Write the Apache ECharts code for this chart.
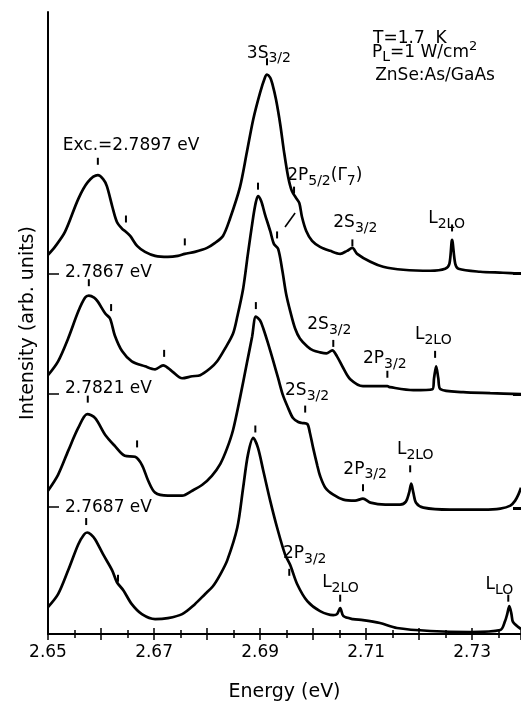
<!DOCTYPE html>
<html><head><meta charset="utf-8">
<script src="https://cdn.jsdelivr.net/npm/echarts@6/dist/echarts.min.js"></script>
<style>html,body{margin:0;padding:0;background:#fff}#c{width:521px;height:707px}</style>
</head><body><div id="c"></div>
<script>
// Spectrum 1: Exc. = 2.7897 eV (top)
const energyS1 = [2.6500,2.6513,2.6532,2.6557,2.6575,2.6594,2.6604,2.6611,2.6621,2.6630,2.6640,2.6645,2.6655,2.6668,2.6683,2.6702,2.6726,2.6745,2.6758,2.6777,2.6800,2.6815,2.6830,2.6843,2.6862,2.6875,2.6887,2.6900,2.6909,2.6913,2.6919,2.6923,2.6930,2.6938,2.6945,2.6953,2.6960,2.6968,2.6974,2.6979,2.6987,2.6998,2.7013,2.7032,2.7051,2.7064,2.7074,2.7083,2.7108,2.7132,2.7170,2.7221,2.7249,2.7257,2.7262,2.7268,2.7274,2.7315,2.7358,2.7392];
const intensityS1 = [19,27,42,75,92,99,95,88,68,52,45,43,38,28,22,18,17,18,20,22,26,31,38,55,87,122,155,182,197,200,197,191,175,150,123,97,83,76,71,57,43,33,27,23,20,23,26,20,12,7,4,3,5,10,34,10,5,2,1,0];
// Spectrum 2: 2.7867 eV
const energyS2 = [2.6500,2.6519,2.6538,2.6557,2.6570,2.6577,2.6587,2.6594,2.6608,2.6617,2.6626,2.6640,2.6658,2.6683,2.6702,2.6717,2.6734,2.6753,2.6772,2.6787,2.6806,2.6819,2.6834,2.6849,2.6857,2.6868,2.6877,2.6887,2.6892,2.6896,2.6902,2.6909,2.6919,2.6926,2.6934,2.6942,2.6949,2.6957,2.6966,2.6975,2.6989,2.7000,2.7013,2.7025,2.7036,2.7045,2.7057,2.7070,2.7094,2.7140,2.7145,2.7189,2.7225,2.7228,2.7232,2.7236,2.7240,2.7283,2.7334,2.7392];
const intensityS2 = [19,33,56,83,97,99,97,93,81,76,59,43,33,28,25,29,23,16,18,19,26,33,46,61,78,106,141,178,193,199,194,181,164,151,146,124,101,83,66,56,48,44,42,41,44,38,26,15,8,8,7,4,5,16,28,16,5,2,1,0];
// Spectrum 3: 2.7821 eV
const energyS3 = [2.6500,2.6519,2.6538,2.6557,2.6574,2.6589,2.6608,2.6626,2.6645,2.6664,2.6677,2.6689,2.6702,2.6726,2.6753,2.6772,2.6791,2.6809,2.6825,2.6838,2.6849,2.6862,2.6875,2.6885,2.6892,2.6900,2.6906,2.6915,2.6925,2.6934,2.6943,2.6953,2.6962,2.6972,2.6979,2.6989,2.6994,2.7000,2.7008,2.7013,2.7023,2.7038,2.7057,2.7079,2.7094,2.7108,2.7136,2.7164,2.7175,2.7181,2.7185,2.7189,2.7194,2.7208,2.7258,2.7321,2.7353,2.7372,2.7381,2.7387,2.7392];
const intensityS3 = [16,32,56,79,93,89,72,61,51,50,42,26,14,11,11,16,22,31,43,59,77,109,144,171,191,187,179,164,146,129,112,99,89,85,84,83,74,59,41,31,19,12,7,6,8,4,2,2,5,14,23,14,4,-1,-3,-3,-2,1,6,12,19];
// Spectrum 4: 2.7687 eV (bottom)
const energyS4 = [2.6500,2.6519,2.6538,2.6557,2.6568,2.6574,2.6581,2.6589,2.6604,2.6621,2.6630,2.6642,2.6658,2.6677,2.6702,2.6726,2.6753,2.6777,2.6796,2.6811,2.6825,2.6838,2.6857,2.6868,2.6877,2.6887,2.6896,2.6906,2.6919,2.6932,2.6947,2.6957,2.6970,2.6989,2.7013,2.7038,2.7045,2.7051,2.7057,2.7075,2.7094,2.7126,2.7158,2.7221,2.7296,2.7353,2.7362,2.7366,2.7370,2.7374,2.7377,2.7392];
const intensityS4 = [27,40,64,90,100,102,100,95,80,64,52,44,30,20,15,16,20,30,40,48,60,74,107,147,180,197,187,164,134,107,80,69,50,33,23,19,20,26,18,15,14,11,6,3,2,4,13,20,28,20,12,5];

const offsets = [362, 241, 128, 0];            // vertical stacking of spectra
const rightBaselines = [362, 241, 126];
const xTickLabels = ['2.65','2.67','2.69','2.71','2.73'];

// Peak markers [energy, value]
const peakTicks = [
  [2.6594,475],[2.6647,417],[2.6758,394],[2.6913,575],[2.6964,446],[2.7074,393],[2.7262,408],
  [2.6577,353],[2.6619,328],[2.6719,282],[2.6896,450],[2.6932,401],[2.7038,292],[2.7140,261],[2.7230,281],
  [2.6575,236],[2.6668,191],[2.6892,330],[2.6985,226],[2.7094,147],[2.7183,166],
  [2.6572,113],[2.6632,56],[2.6891,206],[2.6955,62],[2.7051,36],[2.7368,36]
];
const slashLine = [[2.6947,409],[2.6966,423]];

// Annotations [energy, value, rich text]
const annotations = [
  [2.6528,494,'{a|Exc.=2.7897 eV}'],
  [2.6875,587,'{a|3S}{b|3/2}'],
  [2.7113,602,'{a|T=1.7  K}'],
  [2.7111,588,'{a|P}{b|L}{a|=1 W/cm}{c|2}'],
  [2.7117,565,'{a|ZnSe:As/GaAs}'],
  [2.6951,464,'{a|2P}{b|5/2}{a|(Γ}{b|7}{a|)}'],
  [2.7038,417,'{a|2S}{b|3/2}'],
  [2.7217,421,'{a|L}{b|2LO}'],
  [2.6532,367,'{a|2.7867 eV}'],
  [2.6989,314,'{a|2S}{b|3/2}'],
  [2.7094,280,'{a|2P}{b|3/2}'],
  [2.7192,304,'{a|L}{b|2LO}'],
  [2.6532,250,'{a|2.7821 eV}'],
  [2.6947,248,'{a|2S}{b|3/2}'],
  [2.7057,169,'{a|2P}{b|3/2}'],
  [2.7158,189,'{a|L}{b|2LO}'],
  [2.6532,131,'{a|2.7687 eV}'],
  [2.6943,84,'{a|2P}{b|3/2}'],
  [2.7017,55,'{a|L}{b|2LO}'],
  [2.7325,53,'{a|L}{b|LO}']
];

const F = 'DejaVu Sans';
const rich = {
  a: {fontFamily:F, fontSize:17, lineHeight:18, verticalAlign:'top', padding:[4,0,0,0], color:'#000'},
  b: {fontFamily:F, fontSize:14, lineHeight:14, verticalAlign:'top', padding:[11,0,0,0], color:'#000'},
  c: {fontFamily:F, fontSize:13, lineHeight:14, verticalAlign:'top', padding:[0,0,0,0], color:'#000'}
};

const spectra = [[energyS1,intensityS1],[energyS2,intensityS2],[energyS3,intensityS3],[energyS4,intensityS4]];

const chart = echarts.init(document.getElementById('c'), null, {renderer:'canvas'});
const xBase = {
  type:'value', min:2.65, max:2.7392, interval:0.01,
  axisLine:{show:true, lineStyle:{color:'#000', width:2}},
  axisTick:{show:true, inside:true, length:6, lineStyle:{color:'#000', width:1.5}},
  minorTick:{show:true, splitNumber:2, length:4, lineStyle:{color:'#000', width:1.5}},
  splitLine:{show:false}, minorSplitLine:{show:false}
};
const option = {
  animation:false,
  backgroundColor:'#fff',
  grid:{left:48, right:0, top:12, bottom:70, containLabel:false},
  xAxis:[
    Object.assign({}, xBase, {
      position:'bottom',
      axisLabel:{show:true, margin:10, color:'#000', fontFamily:F, fontSize:17,
        formatter: v => { const s = v.toFixed(2); return (xTickLabels.includes(s) && Math.abs(v - parseFloat(s)) < 1e-6) ? s : ''; },
        showMaxLabel:false},
      name:'Energy (eV)', nameLocation:'middle', nameGap:49,
      nameTextStyle:{color:'#000', fontFamily:F, fontSize:19}
    }),
    Object.assign({}, xBase, {position:'top', axisLabel:{show:false}})
  ],
  yAxis:[
    {type:'value', min:0, max:625, position:'left',
     axisLine:{show:true, lineStyle:{color:'#000', width:2}},
     axisTick:{show:true, inside:true, length:11, customValues:offsets.slice(0,3), lineStyle:{color:'#000', width:1.5}},
     axisLabel:{show:false}, splitLine:{show:false},
     name:'Intensity (arb. units)', nameLocation:'middle', nameGap:10, nameRotate:90,
     nameTextStyle:{color:'#000', fontFamily:F, fontSize:19}},
    {type:'value', min:0, max:625, position:'right',
     axisLine:{show:false},
     axisTick:{show:true, inside:true, length:8, customValues:rightBaselines, lineStyle:{color:'#000', width:3}},
     axisLabel:{show:false}, splitLine:{show:false}}
  ],
  series: [
    ...spectra.map((s, k) => ({
      type:'line', xAxisIndex:0, yAxisIndex:0, smooth:0.3, showSymbol:false, symbol:'none',
      lineStyle:{color:'#000', width:2.7}, clip:true,
      data: s[0].map((e, i) => [e, offsets[k] + s[1][i]])
    })),
    {type:'scatter', symbol:'rect', symbolSize:[2,7], itemStyle:{color:'#000', opacity:1}, data:peakTicks, silent:true},
    {type:'line', data:slashLine, showSymbol:false, symbol:'none', lineStyle:{color:'#000', width:1.6}},
    {type:'scatter', symbolSize:0, silent:true, itemStyle:{opacity:1, color:'#000'},
     data: annotations.map(a => ({value:[a[0], a[1]],
       label:{show:true, position:'inside', align:'left', verticalAlign:'middle', color:'#000', opacity:1, formatter:a[2], rich:rich}}))
    }
  ]
};
chart.setOption(option);
</script>
</body></html>
